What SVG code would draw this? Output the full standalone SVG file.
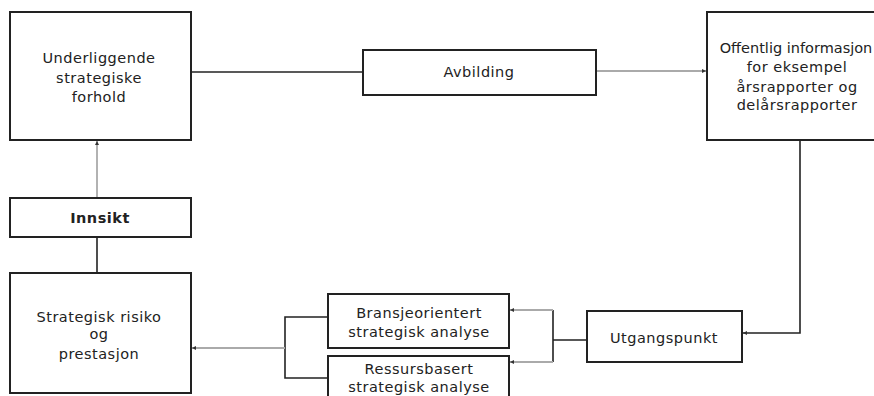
<svg xmlns="http://www.w3.org/2000/svg" width="874" height="396" viewBox="0 0 874 396">
<style>
.box{fill:#fff;stroke:#222;stroke-width:2}
.t{font-family:"DejaVu Sans",sans-serif;font-size:14.5px;fill:#222;text-anchor:middle;letter-spacing:0.5px}
.b{font-weight:bold}
.k{fill:none;stroke:#222;stroke-width:1.6}
.g{fill:none;stroke:#aaa;stroke-width:1.8}
</style>
<defs>
<marker id="ah" markerWidth="4" markerHeight="4" refX="4" refY="2" orient="auto" markerUnits="userSpaceOnUse">
<path d="M0,0 L4,2 L0,4 Z" fill="#333"/>
</marker>
</defs>
<g id="connectors">
<path class="k" d="M191,72 H363"/>
<path class="g" d="M596,71 H706" marker-end="url(#ah)"/>
<path class="k" d="M800,140 V333 H743" marker-end="url(#ah)"/>
<path class="k" d="M587,340 H553 M553,310 V362"/>
<path class="g" d="M553,310 H510" marker-end="url(#ah)"/>
<path class="g" d="M553,362 H510" marker-end="url(#ah)"/>
<path class="k" d="M328,317 H285 V378 H328"/>
<path class="g" d="M285,348 H192" marker-end="url(#ah)"/>
<path class="k" d="M97,237 V273"/>
<path class="g" d="M97,198 V141" marker-end="url(#ah)"/>
</g>
<g id="underliggende">
<rect class="box" x="10" y="12" width="181" height="128"/>
<text class="t" x="99" y="63">Underliggende</text>
<text class="t" x="99" y="83">strategiske</text>
<text class="t" x="99" y="102">forhold</text>
</g>
<g id="avbilding">
<rect class="box" x="363" y="50" width="233" height="45"/>
<text class="t" x="479" y="77">Avbilding</text>
</g>
<g id="offentlig">
<rect class="box" x="707" y="12" width="180" height="128"/>
<text class="t" x="796" y="53" style="letter-spacing:0">Offentlig informasjon</text>
<text class="t" x="797" y="72">for eksempel</text>
<text class="t" x="797" y="92">årsrapporter og</text>
<text class="t" x="797" y="110">delårsrapporter</text>
</g>
<g id="innsikt">
<rect class="box" x="10" y="198" width="181" height="39"/>
<text class="t b" x="100" y="223">Innsikt</text>
</g>
<g id="strategisk">
<rect class="box" x="10" y="273" width="181" height="120"/>
<text class="t" x="99" y="322">Strategisk risiko</text>
<text class="t" x="99" y="339">og</text>
<text class="t" x="99" y="359">prestasjon</text>
</g>
<g id="bransje">
<rect class="box" x="328" y="294" width="181" height="54"/>
<text class="t" x="419" y="318">Bransjeorientert</text>
<text class="t" x="419" y="337">strategisk analyse</text>
</g>
<g id="ressurs">
<rect class="box" x="328" y="356" width="181" height="50"/>
<text class="t" x="419" y="374">Ressursbasert</text>
<text class="t" x="419" y="392">strategisk analyse</text>
</g>
<g id="utgangspunkt">
<rect class="box" x="587" y="311" width="155" height="51"/>
<text class="t" x="664" y="343">Utgangspunkt</text>
</g>
</svg>
